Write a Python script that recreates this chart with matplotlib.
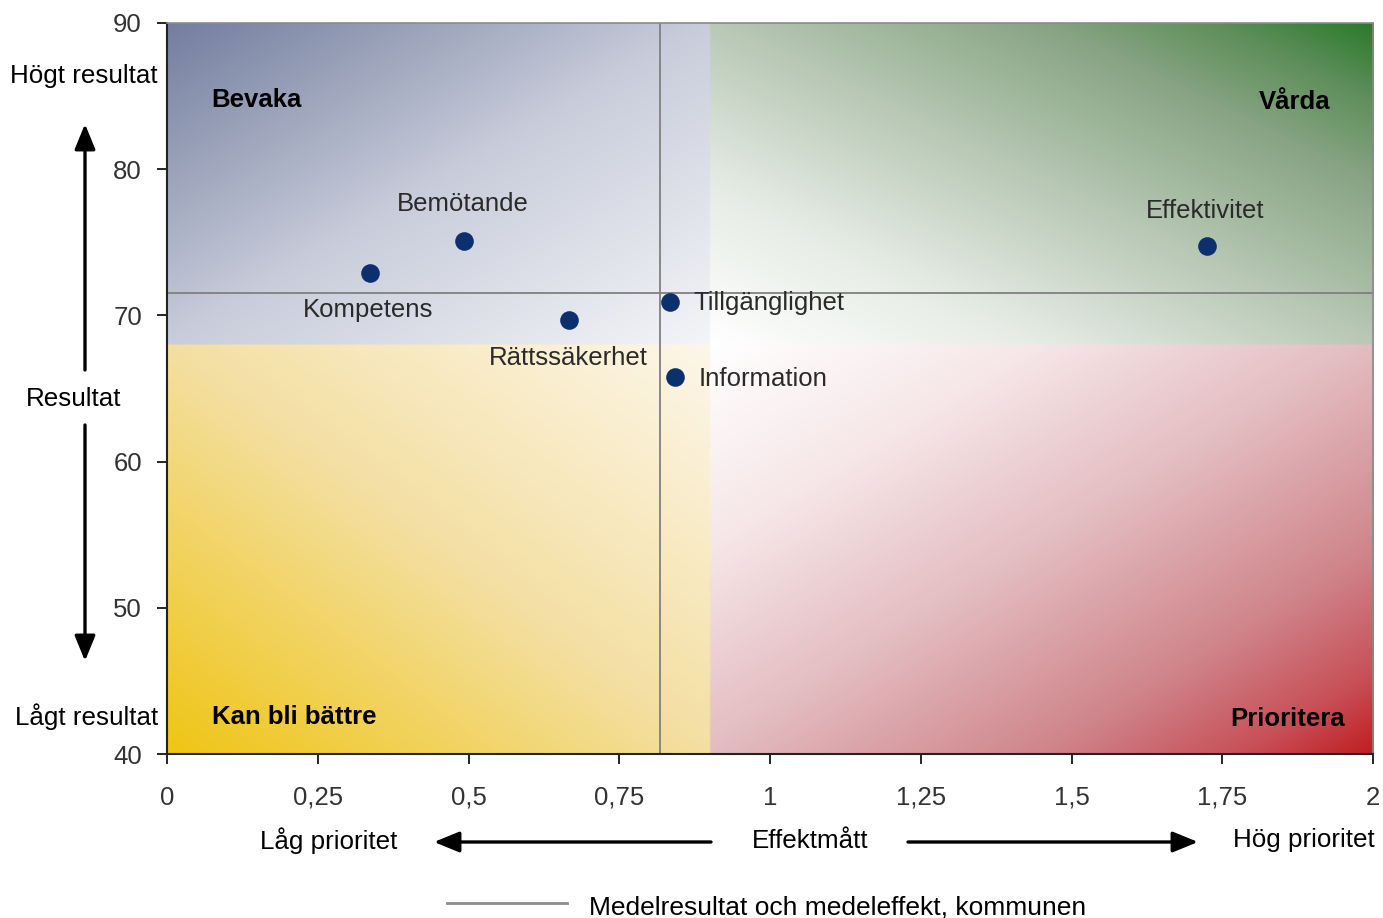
import matplotlib.pyplot as plt
import numpy as np
from matplotlib.patches import FancyArrowPatch
from matplotlib.lines import Line2D

plt.rcParams["font.family"] = ["Liberation Sans", "DejaVu Sans"]

# Data
areas = ["Kompetens", "Bemötande", "Rättssäkerhet", "Tillgänglighet", "Information", "Effektivitet"]
effekt = [0.337, 0.493, 0.667, 0.834, 0.842, 1.725]
resultat = [72.9, 75.1, 69.7, 70.9, 65.8, 74.75]
mean_effekt = 0.818
mean_resultat = 71.5

x_ticks = [0, 0.25, 0.5, 0.75, 1, 1.25, 1.5, 1.75, 2]
x_tick_labels = ["0", "0,25", "0,5", "0,75", "1", "1,25", "1,5", "1,75", "2"]
y_ticks = [40, 50, 60, 70, 80, 90]

quadrants = ["Bevaka", "Vårda", "Kan bli bättre", "Prioritera"]

# label offsets in pixels (dx, dy, ha)
label_offsets = {
    "Kompetens": (-2, -37, "center"),
    "Bemötande": (-1, 37, "center"),
    "Rättssäkerhet": (-1, -38, "center"),
    "Tillgänglighet": (23, -1, "left"),
    "Information": (24, -2, "left"),
    "Effektivitet": (-2, 35, "center"),
}

W, H = 1383, 918
fig = plt.figure(figsize=(W / 100, H / 100), dpi=100)
ax = fig.add_axes([167 / W, 1 - 754 / H, (1373 - 167) / W, (754 - 23) / H])

x0, x1, y0, y1 = 0, 2, 40, 90
split_x, split_y = 0.9, 68

nx, ny = 600, 400
xs = np.linspace(x0, x1, nx)
ys = np.linspace(y1, y0, ny)
X, Y = np.meshgrid(xs, ys)
img = np.ones((ny, nx, 3))


def hexrgb(h):
    h = h.lstrip("#")
    return np.array([int(h[i:i + 2], 16) / 255 for i in (0, 2, 4)])


# colour stops per quadrant: (position, colour), fading from the split point to the outer corner
stops = {
    "tl": [(0, "#f4f5f8"), (0.5, "#c9cddb"), (1, "#737e9e")],
    "tr": [(0, "#ffffff"), (0.25, "#e6ece5"), (0.5, "#b9c9b6"), (0.75, "#88a484"),
           (0.88, "#5f8f5b"), (1, "#2a7a2c")],
    "bl": [(0, "#fdf7ea"), (0.5, "#f4dfa2"), (1, "#efc514")],
    "br": [(0, "#ffffff"), (0.25, "#f6e6e8"), (0.5, "#e3bcc0"), (0.75, "#cf858b"),
           (0.9, "#c85058"), (1, "#bf1e21")],
}

for key, st in stops.items():
    if key == "tl":
        m = (X < split_x) & (Y >= split_y)
        u = (split_x - X) / (split_x - x0)
        v = (Y - split_y) / (y1 - split_y)
    elif key == "tr":
        m = (X >= split_x) & (Y >= split_y)
        u = (X - split_x) / (x1 - split_x)
        v = (Y - split_y) / (y1 - split_y)
    elif key == "bl":
        m = (X < split_x) & (Y < split_y)
        u = (split_x - X) / (split_x - x0)
        v = (split_y - Y) / (split_y - y0)
    else:
        m = (X >= split_x) & (Y < split_y)
        u = (X - split_x) / (x1 - split_x)
        v = (split_y - Y) / (split_y - y0)
    t = np.clip((u + v) / 2, 0, 1)
    pos = [p for p, _ in st]
    cols = np.array([hexrgb(c) for _, c in st])
    for ch in range(3):
        chan = np.interp(t, pos, cols[:, ch])
        img[..., ch][m] = chan[m]

ax.imshow(img, extent=[x0, x1, y0, y1], aspect="auto", zorder=0, interpolation="bilinear")

ax.axvline(mean_effekt, color="#808080", lw=1.3, zorder=2)
ax.axhline(mean_resultat, color="#808080", lw=1.3, zorder=2)

ax.scatter(effekt, resultat, s=180, color="#0c2f6e", zorder=4, linewidths=0)

for name, xv, yv in zip(areas, effekt, resultat):
    dx, dy, ha = label_offsets[name]
    ax.annotate(name, (xv, yv), xytext=(dx, dy), textcoords="offset pixels",
                ha=ha, va="center", fontsize=18.5, color="#2a2a2a", zorder=5)

ax.text(0.037, 0.895, quadrants[0], transform=ax.transAxes, fontsize=18.5,
        fontweight="bold", ha="left", va="center")
ax.text(0.965, 0.892, quadrants[1], transform=ax.transAxes, fontsize=18.5,
        fontweight="bold", ha="right", va="center")
ax.text(0.037, 0.05, quadrants[2], transform=ax.transAxes, fontsize=18.5,
        fontweight="bold", ha="left", va="center")
ax.text(0.977, 0.048, quadrants[3], transform=ax.transAxes, fontsize=18.5,
        fontweight="bold", ha="right", va="center")

ax.set_xlim(x0, x1)
ax.set_ylim(y0, y1)
ax.set_xticks(x_ticks)
ax.set_xticklabels(x_tick_labels)
ax.set_yticks(y_ticks)
ax.tick_params(axis="x", length=7, width=1.2, pad=16, labelsize=18.5, labelcolor="#333333")
ax.tick_params(axis="y", length=7, width=1.2, pad=11, labelsize=18.5, labelcolor="#333333")
for s in ["left", "bottom"]:
    ax.spines[s].set_color("#222222")
    ax.spines[s].set_linewidth(1.5)
for s in ["top", "right"]:
    ax.spines[s].set_color("#8a8a8a")
    ax.spines[s].set_linewidth(1.2)


def fx(px):
    return px / W


def fy(py):
    return 1 - py / H


# side labels and arrows
fig.text(fx(158), fy(76), "Högt resultat", ha="right", va="center", fontsize=18.7)
fig.text(fx(158), fy(717), "Lågt resultat", ha="right", va="center", fontsize=18.7)
fig.text(fx(74), fy(399), "Resultat", ha="center", va="center", fontsize=18.7)
fig.text(fx(397), fy(841), "Låg prioritet", ha="right", va="center", fontsize=18.7)
fig.text(fx(810), fy(841), "Effektmått", ha="center", va="center", fontsize=18.7)
fig.text(fx(1375), fy(840), "Hög prioritet", ha="right", va="center", fontsize=18.7)

arrow_kw = dict(arrowstyle="-|>,head_length=1.1,head_width=0.45", color="black",
                lw=2.4, mutation_scale=14, transform=fig.transFigure)
for start, end in [((85, 370), (85, 124)), ((85, 425), (85, 661)),
                   ((711, 842), (434, 842)), ((908, 842), (1198, 842))]:
    fig.add_artist(FancyArrowPatch((fx(start[0]), fy(start[1])), (fx(end[0]), fy(end[1])),
                                   shrinkA=0, shrinkB=0, **arrow_kw))

# legend at the bottom
fig.add_artist(Line2D([fx(447), fx(567)], [fy(903), fy(903)], color="#8c8c8c", lw=2,
                      transform=fig.transFigure))
fig.text(fx(589), fy(907), "Medelresultat och medeleffekt, kommunen", ha="left",
         va="center", fontsize=19)

fig.savefig("out.png", dpi=100)
